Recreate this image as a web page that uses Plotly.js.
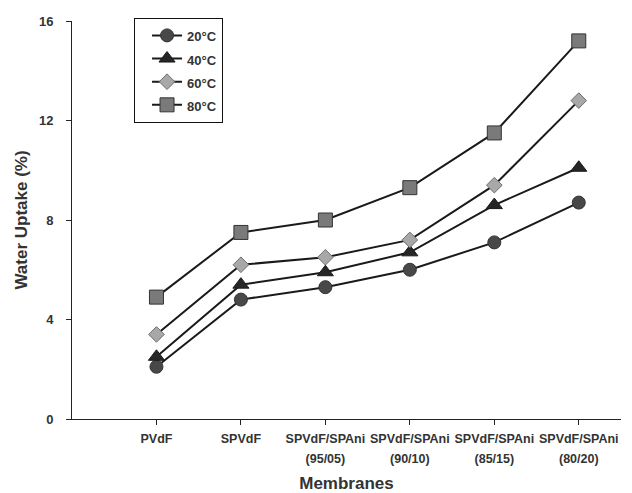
<!DOCTYPE html>
<html>
<head>
<meta charset="utf-8">
<script src="https://cdn.plot.ly/plotly-3.0.1.min.js"></script>
<style>html,body{margin:0;padding:0;background:#fff;}#chart{width:632px;height:493px;}</style>
</head>
<body>
<div id="chart"></div>
<script>
var categories = ["PVdF", "SPVdF", "SPVdF/SPAni<br>(95/05)", "SPVdF/SPAni<br>(90/10)", "SPVdF/SPAni<br>(85/15)", "SPVdF/SPAni<br>(80/20)"];
var positions = [0, 1, 2, 3, 4, 5];
var seriesNames = ["20°C", "40°C", "60°C", "80°C"];
var uptake20 = [2.1, 4.8, 5.3, 6.0, 7.1, 8.7];
var uptake40 = [2.5, 5.4, 5.9, 6.7, 8.6, 10.1];
var uptake60 = [3.4, 6.2, 6.5, 7.2, 9.4, 12.8];
var uptake80 = [4.9, 7.5, 8.0, 9.3, 11.5, 15.2];
var yTicks = [0, 4, 8, 12, 16];

var font = '"Liberation Sans", Arial, sans-serif';
var textColor = '#333333';

function small(s, px) {
  return s.split('<br>').map(function (p) { return '<span style="font-size:' + px + 'px">' + p + '</span>'; }).join('<br>');
}

function tr(name, y, symbol, size, fill, edge) {
  return {
    x: positions, y: y, name: small(name, 13), type: 'scatter', mode: 'lines+markers',
    line: {color: '#1a1a1a', width: 2},
    marker: {symbol: symbol, size: size, color: fill, line: {color: edge, width: 1}}
  };
}

var data = [
  tr(seriesNames[0], uptake20, 'circle', 13, '#484848', '#333333'),
  tr(seriesNames[1], uptake40, 'triangle-up', 14, '#262626', '#1a1a1a'),
  tr(seriesNames[2], uptake60, 'diamond', 12, '#a8a8a8', '#6e6e6e'),
  tr(seriesNames[3], uptake80, 'square', 14, '#7a7a7a', '#333333')
];

var layout = {
  width: 632, height: 493,
  margin: {l: 72, r: 11, t: 21, b: 74},
  paper_bgcolor: '#fff', plot_bgcolor: '#fff',
  showlegend: true,
  legend: {
    x: 0.113, y: 1.008, xanchor: 'left', yanchor: 'top',
    bordercolor: '#111', borderwidth: 1, bgcolor: '#fff',
    font: {family: font, size: 15.5, color: textColor, weight: 700},
    indentation: 12, tracegroupgap: 0
  },
  xaxis: {
    range: [-1, 5.5], tickvals: positions, ticktext: categories.map(function (c) { return small(c, 12.5); }), tickangle: 0,
    showgrid: false, zeroline: false, showline: true, linecolor: '#222', linewidth: 1,
    ticks: 'outside', ticklen: 5, tickcolor: '#222',
    tickfont: {family: font, size: 15, color: textColor, weight: 700},
    title: {text: 'Membranes', font: {family: font, size: 17, color: textColor, weight: 700}, standoff: 15},
    automargin: false
  },
  yaxis: {
    range: [0, 16], tickvals: yTicks, ticktext: yTicks.map(String),
    showgrid: false, zeroline: false, showline: true, linecolor: '#222', linewidth: 1,
    ticks: 'outside', ticklen: 5, tickcolor: '#222', ticklabelstandoff: 10,
    tickfont: {family: font, size: 13, color: textColor, weight: 700},
    title: {text: 'Water Uptake (%)', font: {family: font, size: 17, color: textColor, weight: 700}, standoff: 6},
    automargin: false
  }
};

Plotly.newPlot('chart', data, layout, {displayModeBar: false, staticPlot: true});
</script>
</body>
</html>
